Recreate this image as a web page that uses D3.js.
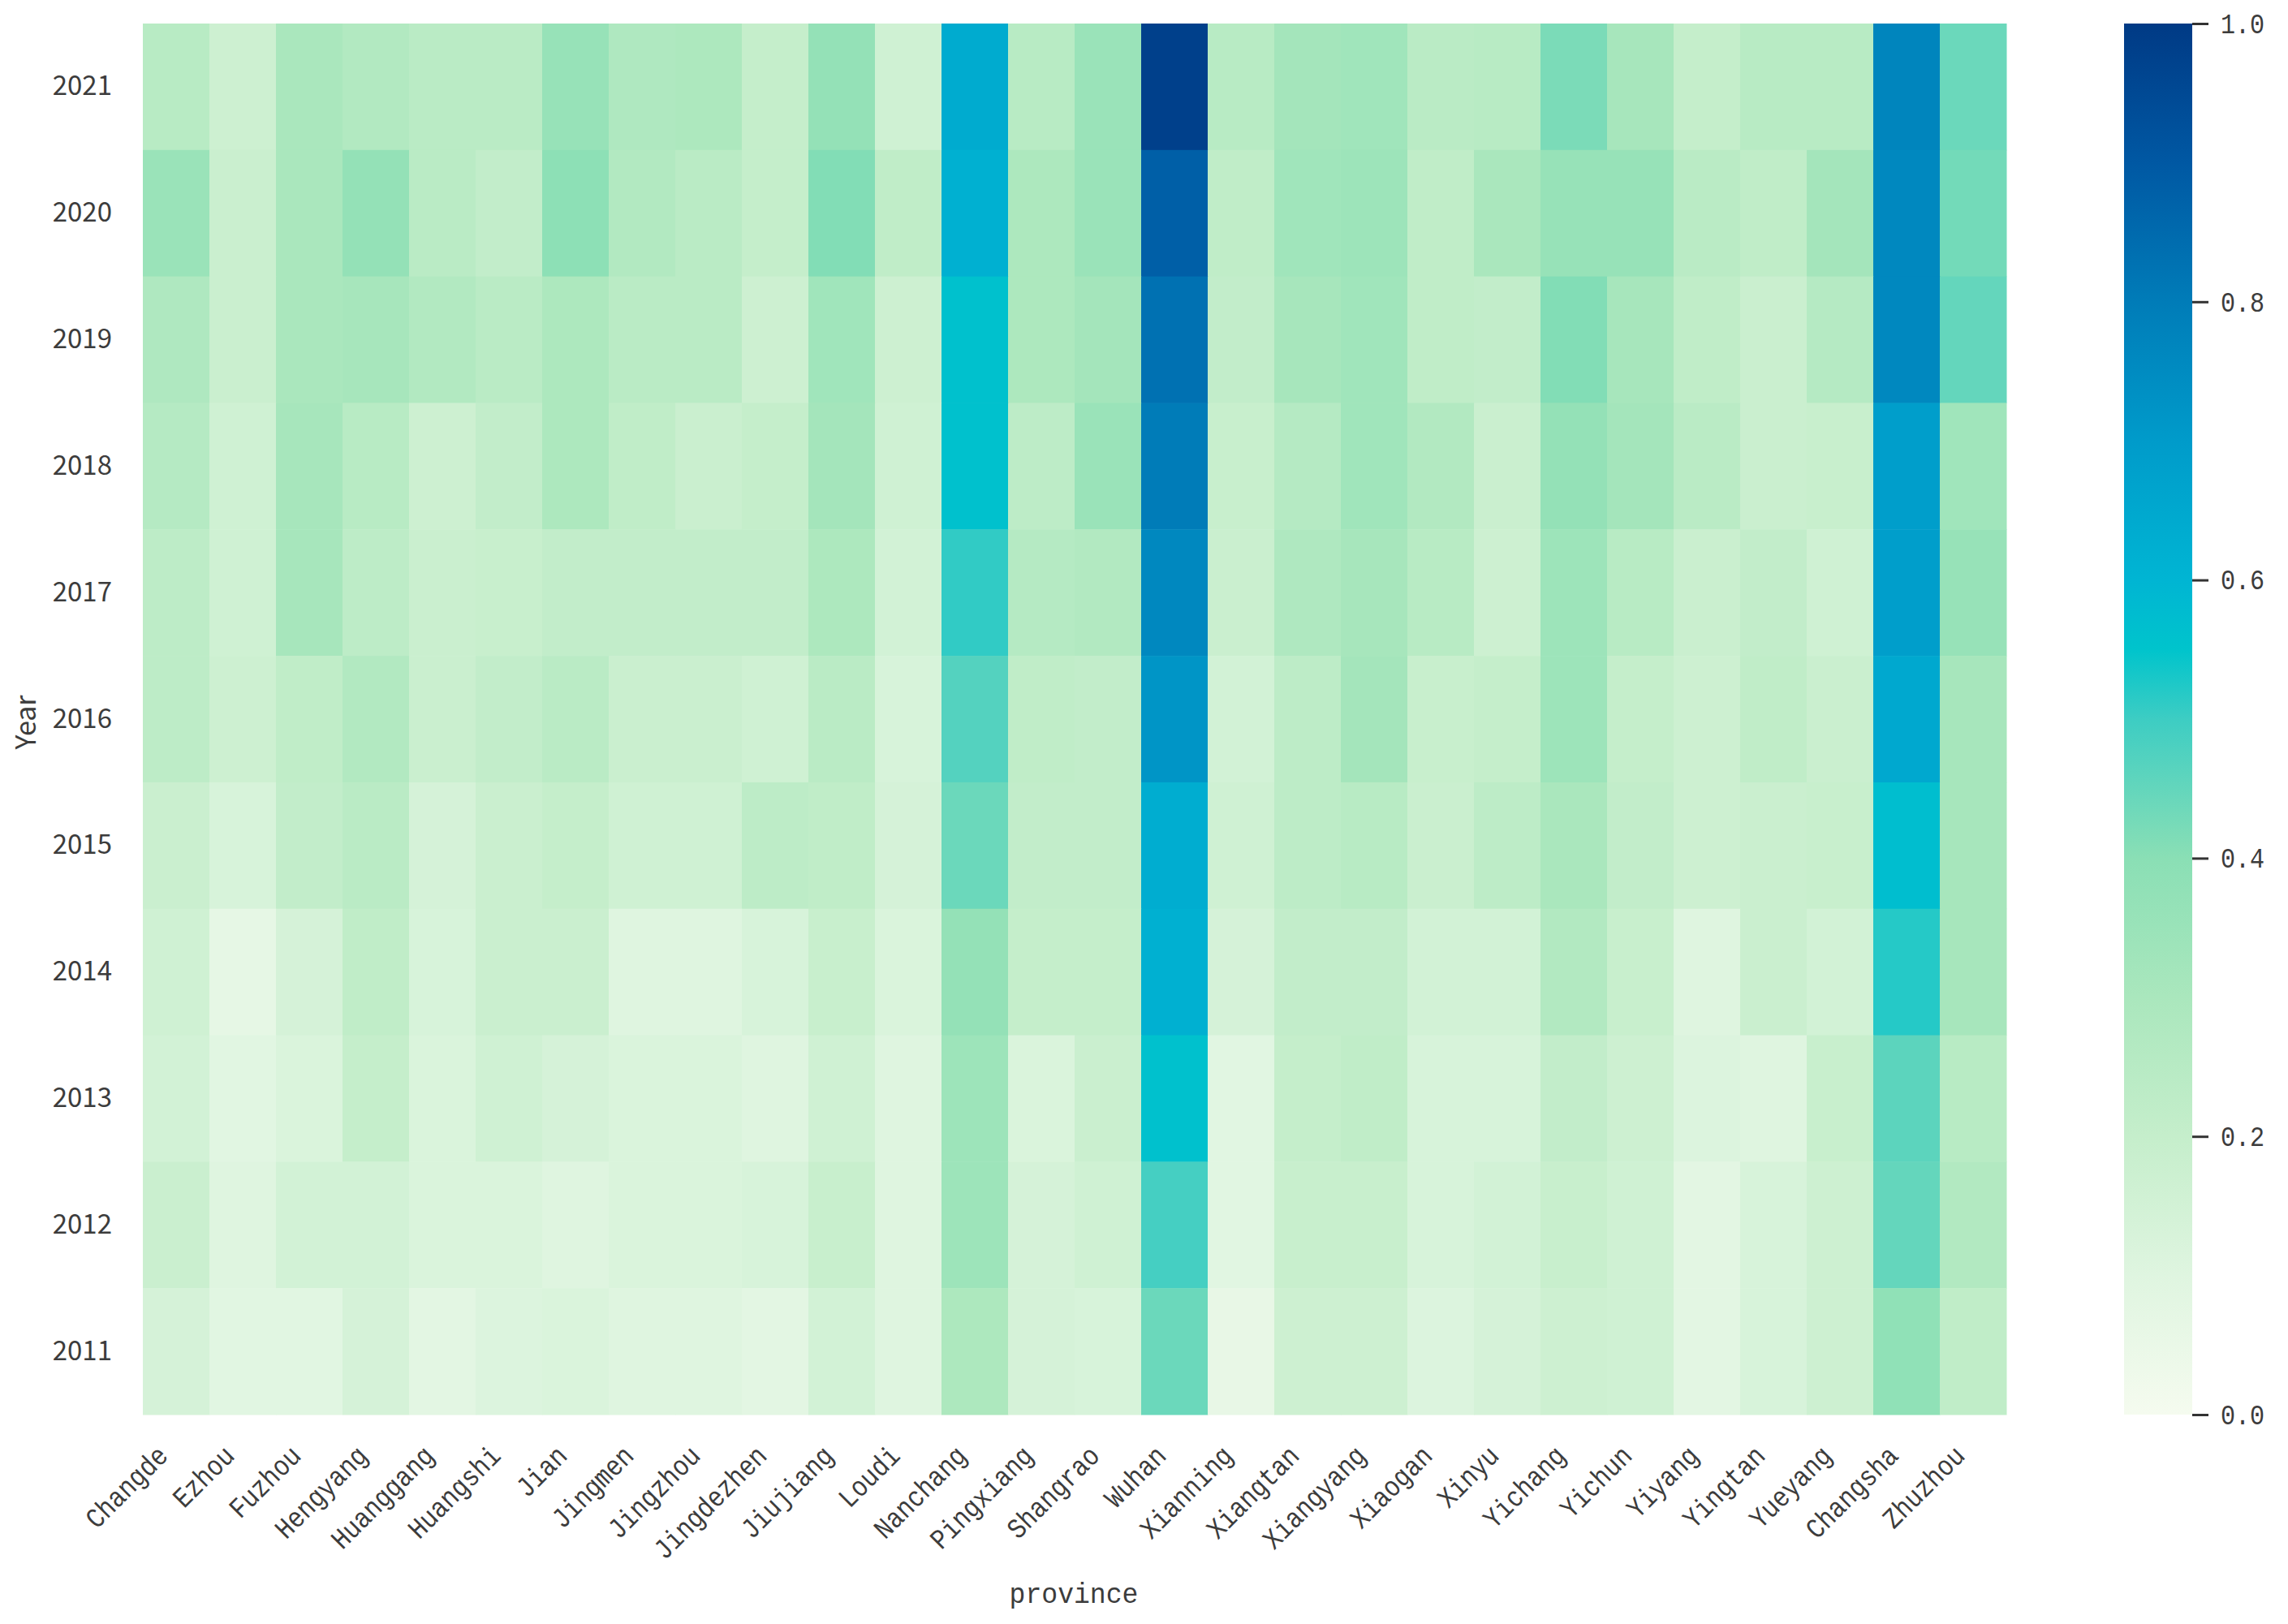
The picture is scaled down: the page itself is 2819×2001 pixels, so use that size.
<!DOCTYPE html>
<html>
<head>
<meta charset="utf-8">
<script src="https://cdn.jsdelivr.net/npm/d3@7"></script>
<style>
  html, body { margin: 0; padding: 0; background: #fff; }
  text { font-family: "Liberation Mono", "DejaVu Sans Mono", monospace; fill: #3c3c3c; }
  .sans { font-family: "Noto Sans CJK SC", "Noto Sans", sans-serif; }
</style>
</head>
<body>
<div id="chart"></div>
<script>
var provinces = ["Changde","Ezhou","Fuzhou","Hengyang","Huanggang","Huangshi","Jian","Jingmen","Jingzhou","Jingdezhen","Jiujiang","Loudi","Nanchang","Pingxiang","Shangrao","Wuhan","Xianning","Xiangtan","Xiangyang","Xiaogan","Xinyu","Yichang","Yichun","Yiyang","Yingtan","Yueyang","Changsha","Zhuzhou"];
var years = [2021,2020,2019,2018,2017,2016,2015,2014,2013,2012,2011];

var v2021 = [.25,.17,.30,.27,.24,.24,.36,.28,.29,.20,.37,.16,.64,.25,.35,.98,.25,.32,.33,.24,.25,.42,.31,.20,.25,.25,.77,.44];
var v2020 = [.35,.18,.30,.37,.24,.21,.39,.27,.24,.20,.41,.22,.62,.29,.35,.88,.22,.33,.34,.22,.30,.36,.36,.24,.22,.32,.76,.43];
var v2019 = [.28,.18,.30,.31,.27,.24,.29,.24,.24,.17,.33,.17,.56,.29,.32,.83,.21,.31,.33,.22,.21,.41,.31,.22,.18,.26,.76,.45];
var v2018 = [.26,.16,.31,.25,.17,.21,.29,.22,.18,.20,.32,.16,.56,.23,.35,.80,.19,.26,.33,.27,.18,.37,.32,.24,.18,.19,.69,.33];
var v2017 = [.23,.16,.31,.23,.18,.19,.21,.21,.21,.21,.29,.15,.51,.26,.27,.76,.18,.28,.31,.25,.17,.34,.25,.18,.21,.16,.69,.36];
var v2016 = [.23,.17,.22,.27,.18,.21,.24,.18,.18,.16,.24,.13,.47,.22,.21,.72,.15,.23,.32,.19,.20,.34,.20,.17,.22,.18,.65,.31];
var v2015 = [.18,.13,.21,.24,.14,.18,.20,.16,.16,.23,.22,.14,.44,.21,.21,.63,.16,.23,.25,.18,.23,.30,.21,.17,.18,.19,.57,.31];
var v2014 = [.16,.07,.14,.22,.13,.18,.18,.10,.10,.13,.19,.12,.37,.20,.20,.62,.14,.21,.21,.15,.15,.27,.19,.10,.18,.15,.52,.31];
var v2013 = [.15,.09,.12,.20,.12,.16,.14,.12,.12,.10,.16,.10,.34,.12,.18,.56,.09,.20,.22,.13,.13,.21,.17,.11,.10,.19,.46,.25];
var v2012 = [.18,.10,.15,.15,.12,.12,.10,.12,.12,.13,.19,.10,.34,.14,.16,.49,.09,.19,.19,.13,.15,.19,.16,.08,.13,.17,.45,.27];
var v2011 = [.14,.09,.09,.14,.08,.11,.12,.10,.10,.08,.15,.10,.29,.14,.13,.44,.06,.17,.17,.11,.14,.17,.16,.08,.13,.17,.38,.22];
var rows = [v2021,v2020,v2019,v2018,v2017,v2016,v2015,v2014,v2013,v2012,v2011];

var colorStops = [0,.1,.2,.3,.4,.5,.55,.6,.7,.8,.9,1];
var colorValues = ["#f5fbef","#dff5e0","#c5eecb","#aae7bd","#8adfb5","#3dcdc3","#00c4cc","#00b5d3","#009bca","#007cb8","#0058a3","#003a85"];
var barTicks = [0,.2,.4,.6,.8,1];

var width = 2819, height = 2001;
var left = 176, right = 2472, top_ = 29, bottom = 1743;
var barLeft = 2617, barRight = 2701;

var color = d3.scaleLinear().domain(colorStops).range(colorValues);
var x = d3.scaleBand().domain(provinces).range([left, right]);
var y = d3.scaleBand().domain(years).range([top_, bottom]);
var barScale = d3.scaleLinear().domain([0, 1]).range([bottom, top_]);

var svg = d3.select("#chart").append("svg")
  .attr("width", width).attr("height", height)
  .style("display", "block");

// 热力格子
rows.forEach(function(vals, r) {
  svg.append("g").selectAll("rect")
    .data(vals)
    .enter().append("rect")
    .attr("x", function(d, i) { return x(provinces[i]); })
    .attr("y", y(years[r]))
    .attr("width", x.bandwidth() + 0.5)
    .attr("height", y.bandwidth() + 0.5)
    .attr("fill", function(d) { return color(d); });
});

// 坐标轴
var yAxis = svg.append("g").attr("transform", "translate(" + left + ",0)")
  .call(d3.axisLeft(y).tickSize(0).tickPadding(38));
yAxis.select(".domain").remove();
yAxis.selectAll("text").attr("class", "sans").attr("font-size", 33).style("font-family", null);

var xAxis = svg.append("g").attr("transform", "translate(0," + bottom + ")")
  .call(d3.axisBottom(x).tickSize(0));
xAxis.select(".domain").remove();
xAxis.selectAll("text")
  .attr("font-size", 35)
  .style("font-family", null)
  .attr("text-anchor", "end")
  .attr("dy", "0.35em")
  .attr("y", 0)
  .attr("transform", "translate(-17,44) rotate(-45) scale(0.86,1)");

svg.append("text")
  .attr("transform", "translate(1323,1975) scale(0.92,1)")
  .attr("text-anchor", "middle").attr("font-size", 36).text("province");
svg.append("text").attr("class", "sans")
  .attr("transform", "translate(44,890) rotate(-90)")
  .attr("text-anchor", "middle").attr("font-size", 34).text("Year");

// 色条
var defs = svg.append("defs");
var grad = defs.append("linearGradient").attr("id", "bar-grad")
  .attr("x1", 0).attr("x2", 0).attr("y1", 1).attr("y2", 0);
grad.selectAll("stop").data(colorStops).enter().append("stop")
  .attr("offset", function(d) { return d; })
  .attr("stop-color", function(d) { return color(d); });
svg.append("rect")
  .attr("x", barLeft).attr("y", top_)
  .attr("width", barRight - barLeft).attr("height", bottom - top_)
  .attr("fill", "url(#bar-grad)");

var barAxis = svg.append("g").attr("transform", "translate(" + barRight + ",0)")
  .call(d3.axisRight(barScale).tickValues(barTicks).tickSize(20).tickPadding(15)
    .tickFormat(d3.format(".1f")));
barAxis.select(".domain").remove();
barAxis.selectAll("line").attr("stroke", "#333").attr("stroke-width", 3);
barAxis.selectAll("text")
  .attr("font-size", 35)
  .style("font-family", null)
  .attr("transform", function() {
    return "translate(" + (+this.getAttribute("x") * 0.14) + ",0) scale(0.86,1)";
  });
</script>
</body>
</html>
